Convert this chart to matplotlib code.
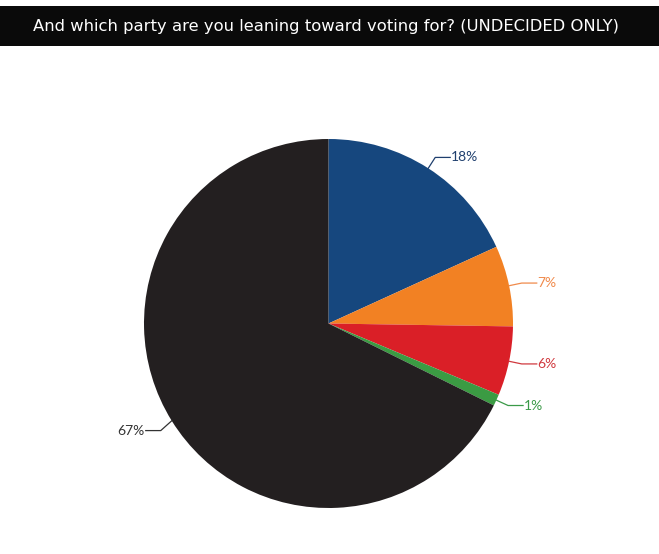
import numpy as np
import matplotlib.pyplot as plt
from matplotlib.patches import Rectangle

# Data (clockwise from 12 o'clock)
labels = ['18%', '7%', '6%', '1%', '67%']
values = [18, 7, 6, 1, 67]
colors = ['#16477e', '#f28123', '#da1f27', '#3b9b43', '#231f20']
text_colors = ['#1f3f6e', '#f08a4b', '#d0393e', '#3b9a48', '#333333']

TITLE = 'And which party are you leaning toward voting for? (UNDECIDED ONLY)'

# Layout in pixels (y measured upward)
W, H = 659, 554
CX, CY, R = 328.5, 554 - 323.5, 184.5

fig = plt.figure(figsize=(W / 100, H / 100), dpi=100)
ax = fig.add_axes([0, 0, 1, 1])

ax.pie(values, colors=colors, startangle=90, counterclock=False,
       center=(CX, CY), radius=R, wedgeprops=dict(linewidth=0))
ax.set_xlim(0, W)
ax.set_ylim(0, H)
ax.set_aspect('auto')
ax.axis('off')

# Leader lines and labels at the middle of each wedge
total = sum(values)
cum = 0
for lab, v, tc in zip(labels, values, text_colors):
    mid = np.deg2rad(90 - (cum + v / 2) / total * 360)
    cum += v
    x0, y0 = CX + R * np.cos(mid), CY + R * np.sin(mid)
    x1, y1 = CX + 1.07 * R * np.cos(mid), CY + 1.07 * R * np.sin(mid)
    side = 1 if np.cos(mid) >= 0 else -1
    x2 = x1 + side * 15
    if side < 0:
        y1 -= 3
    ax.plot([x0, x1, x2], [y0, y1, y1], color=tc, lw=0.9)
    ax.text(x2 + side * 1, y1, lab, color=tc, fontsize=10,
            family=['Lato', 'DejaVu Sans'],
            ha='left' if side > 0 else 'right', va='center')

# Title bar
ax.add_patch(Rectangle((0, H - 46), W, 40, facecolor='#0a0a0a', edgecolor='none'))
ax.text(326, H - 26, TITLE, color='white', fontsize=11.8, ha='center', va='center',
        family='DejaVu Sans')

fig.savefig('out.png', dpi=100)
